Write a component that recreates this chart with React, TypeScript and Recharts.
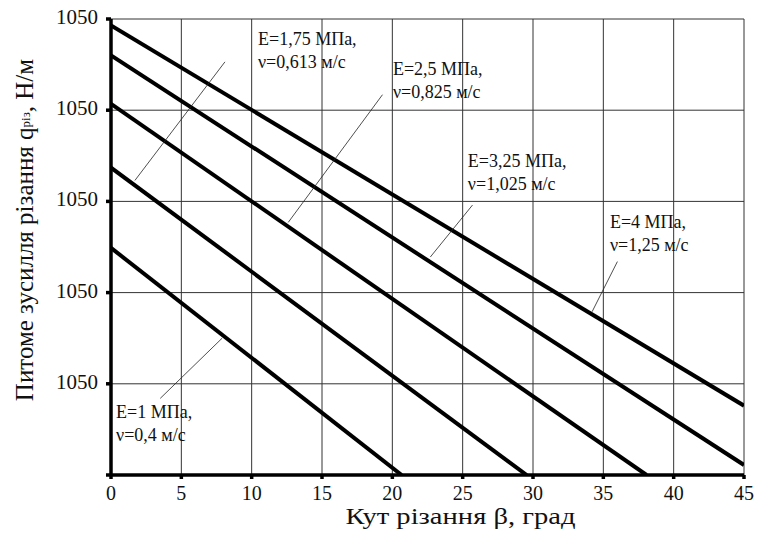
import React from "react";
import {
  LineChart,
  Line,
  XAxis,
  YAxis,
  CartesianGrid,
  ReferenceLine,
  ReferenceDot,
} from "recharts";

// кут різання, град
const xTicks = [0, 5, 10, 15, 20, 25, 30, 35, 40, 45];
// питоме зусилля (умовні поділки сітки)
const yTicks = [0, 1, 2, 3, 4, 5];
const yTickLabels = ["", "1050", "1050", "1050", "1050", "1050"];

// E=1 МПа, v=0,4 м/с
const beta1 = [0, 20.66];
const q1 = [2.49, 0];
// E=1,75 МПа, v=0,613 м/с
const beta175 = [0, 29.55];
const q175 = [3.37, 0];
// E=2,5 МПа, v=0,825 м/с
const beta25 = [0, 38.07];
const q25 = [4.07, 0];
// E=3,25 МПа, v=1,025 м/с
const beta325 = [0, 45];
const q325 = [4.6, 0.11];
// E=4 МПа, v=1,25 м/с
const beta4 = [0, 45];
const q4 = [4.93, 0.76];

const toPoints = (xs: number[], ys: number[]) => xs.map((x, i) => ({ x, y: ys[i] }));

const series = [
  toPoints(beta1, q1),
  toPoints(beta175, q175),
  toPoints(beta25, q25),
  toPoints(beta325, q325),
  toPoints(beta4, q4),
];

// підписи кривих: текст, точка підпису, виноска
const notes = [
  { l1: "E=1 МПа,", l2: "ν=0,4 м/с", at: [0.36, 0.62], lead: [[3.5, 0.84], [7.9, 1.5]] },
  { l1: "E=1,75 МПа,", l2: "ν=0,613 м/с", at: [10.45, 4.71], lead: [[1.7, 3.23], [8.1, 4.53]] },
  { l1: "E=2,5 МПа,", l2: "ν=0,825 м/с", at: [20.04, 4.39], lead: [[12.6, 2.77], [19.3, 4.17]] },
  { l1: "E=3,25 МПа,", l2: "ν=1,025 м/с", at: [25.37, 3.38], lead: [[22.7, 2.39], [25.7, 2.96]] },
  { l1: "E=4 МПа,", l2: "ν=1,25 м/с", at: [35.47, 2.71], lead: [[34.2, 1.79], [36.0, 2.34]] },
];

const FONT = "Liberation Serif";
const INK = "#111";

const noteShape = (l1: string, l2: string) => (props: any) => {
  const { cx, cy } = props;
  return (
    <text x={cx} y={cy} style={{ fontFamily: FONT, fontSize: 18, fill: INK }}>
      <tspan x={cx} y={cy}>{l1}</tspan>
      <tspan x={cx} y={cy + 23}>{l2}</tspan>
    </text>
  );
};

const XTick = (props: any) => {
  const { x, y, payload } = props;
  return (
    <text
      x={x}
      y={y + 19}
      textAnchor="middle"
      style={{ fontFamily: FONT, fontSize: 20, fill: INK }}
    >
      {payload.value}
    </text>
  );
};

const YTick = (props: any) => {
  const { x, y, payload } = props;
  return (
    <text
      x={x - 6}
      y={y + 5}
      textAnchor="end"
      style={{ fontFamily: FONT, fontSize: 21, fill: INK }}
    >
      {yTickLabels[yTicks.indexOf(payload.value)] ?? ""}
    </text>
  );
};

const XTitle = (props: any) => {
  const { viewBox } = props;
  return (
    <text
      x={viewBox.x + viewBox.width / 2 + 33}
      y={524}
      textAnchor="middle"
      textLength={230}
      lengthAdjust="spacingAndGlyphs"
      style={{ fontFamily: FONT, fontSize: 23, fill: INK }}
    >
      Кут різання β, град
    </text>
  );
};

const YTitle = () => {
  const cx = 33;
  const cy = 230;
  return (
    <text
      x={cx}
      y={cy}
      transform={`rotate(-90 ${cx} ${cy})`}
      textAnchor="middle"
      style={{ fontFamily: FONT, fontSize: 25, fill: INK }}
    >
      Питоме зусилля різання q
      <tspan style={{ fontSize: 13 }} dy={-3}>різ</tspan>
      <tspan dy={3}>, Н/м</tspan>
    </text>
  );
};

export default function App() {
  return (
    <div
      style={{
        position: "absolute",
        left: 0,
        top: 0,
        width: 760,
        height: 543,
        background: "#fff",
        fontFamily: FONT,
      }}
    >
      <LineChart width={760} height={543} margin={{ top: 19, right: 16, bottom: 0, left: 0 }}>
        <CartesianGrid stroke="#333" strokeWidth={1} />
        <XAxis
          dataKey="x"
          type="number"
          domain={[0, 45]}
          ticks={xTicks}
          allowDataOverflow
          height={68}
          stroke="#000"
          strokeWidth={3.5}
          tickSize={4}
          tick={<XTick />}
          label={<XTitle />}
        />
        <YAxis
          type="number"
          domain={[0, 5]}
          ticks={yTicks}
          allowDataOverflow
          width={111}
          stroke="#000"
          strokeWidth={3.5}
          tickSize={5}
          tick={<YTick />}
          label={<YTitle />}
        />
        {series.map((d, i) => (
          <Line
            key={i}
            data={d}
            dataKey="y"
            stroke="#000"
            strokeWidth={4}
            dot={false}
            activeDot={false}
            isAnimationActive={false}
          />
        ))}
        {notes.map((n, i) => (
          <ReferenceLine
            key={"l" + i}
            segment={[
              { x: n.lead[0][0], y: n.lead[0][1] },
              { x: n.lead[1][0], y: n.lead[1][1] },
            ]}
            stroke="#222"
            strokeWidth={0.8}
          />
        ))}
        {notes.map((n, i) => (
          <ReferenceDot
            key={"d" + i}
            x={n.at[0]}
            y={n.at[1]}
            r={0}
            shape={noteShape(n.l1, n.l2)}
          />
        ))}
      </LineChart>
    </div>
  );
}
